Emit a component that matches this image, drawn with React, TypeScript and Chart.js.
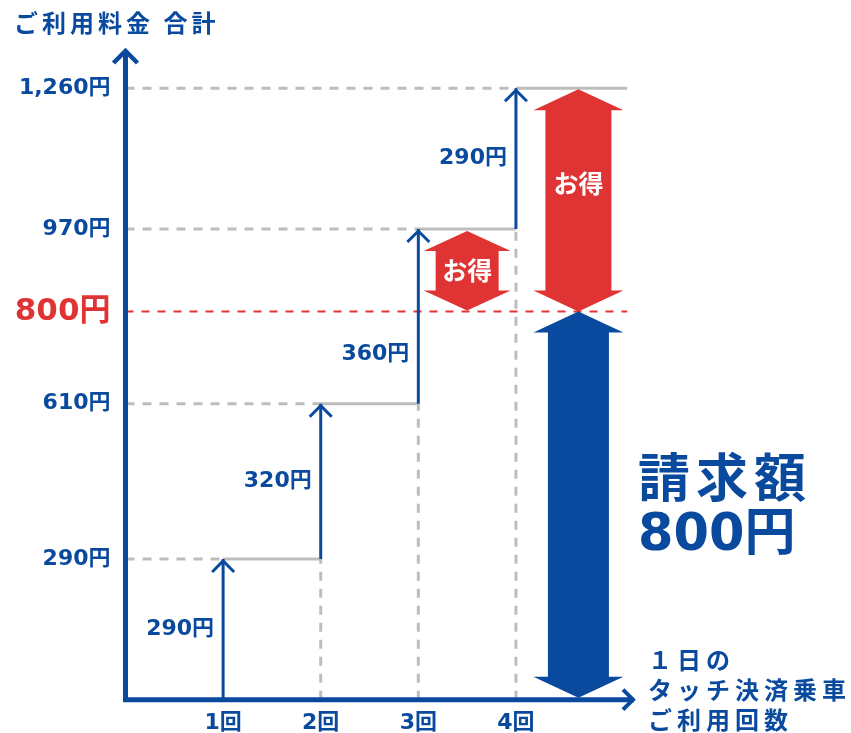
import React, { useEffect, useRef } from 'react';
import { Chart, registerables } from 'chart.js';

Chart.register(...registerables);

// ---- data ----
const categories = ['1回', '2回', '3回', '4回'];
const rideNumbers = [1, 2, 3, 4];
const fares = [290, 320, 360, 290];
const totals = [290, 610, 970, 1260];
const fareLabelValues = [145, 450, 712, 1115];
const yTickValues = [290, 610, 800, 970, 1260];
const capAmount = 800;
const savingSmallX = 3.5;
const billX = 4.64;
const lineEndX = 5.14;
const bigSavingLabelValue = 1063;
const savingLabel = 'お得';
const billLines = ['請求額', '800円'];
const yTitle = 'ご利用料金 合計';
const xTitleLines = ['１日の', 'タッチ決済乗車', 'ご利用回数'];

// ---- styles ----
const BLUE = '#0a4a9e';
const RED = '#e03434';
const GRAY = '#bdbdbd';
const NUM_FONT = '"DejaVu Sans", "Noto Sans CJK JP", sans-serif';
const JP_FONT = '"Noto Sans CJK JP", sans-serif';

const yen = (v: number) => v.toLocaleString('en-US') + '円';

function buildSegments(pairs: Array<[number, number, number, number]>) {
  const out: any[] = [];
  pairs.forEach(([x1, y1, x2, y2]) => {
    out.push({ x: x1, y: y1 }, { x: x2, y: y2 }, { x: x2, y: null });
  });
  return out;
}

function doubleArrow(ctx: CanvasRenderingContext2D, cx: number, yTop: number, yBot: number, shaftHalf: number, headHalf: number, headLen: number, color: string) {
  ctx.beginPath();
  ctx.moveTo(cx, yTop);
  ctx.lineTo(cx + headHalf, yTop + headLen);
  ctx.lineTo(cx + shaftHalf, yTop + headLen);
  ctx.lineTo(cx + shaftHalf, yBot - headLen);
  ctx.lineTo(cx + headHalf, yBot - headLen);
  ctx.lineTo(cx, yBot);
  ctx.lineTo(cx - headHalf, yBot - headLen);
  ctx.lineTo(cx - shaftHalf, yBot - headLen);
  ctx.lineTo(cx - shaftHalf, yTop + headLen);
  ctx.lineTo(cx - headHalf, yTop + headLen);
  ctx.closePath();
  ctx.fillStyle = color;
  ctx.fill();
}

function chevron(ctx: CanvasRenderingContext2D, pts: number[][], color: string, width: number) {
  ctx.beginPath();
  ctx.moveTo(pts[0][0], pts[0][1]);
  ctx.lineTo(pts[1][0], pts[1][1]);
  ctx.lineTo(pts[2][0], pts[2][1]);
  ctx.strokeStyle = color;
  ctx.lineWidth = width;
  ctx.lineJoin = 'miter';
  ctx.lineCap = 'butt';
  ctx.stroke();
}

const decorPlugin = {
  id: 'decor',
  afterDraw(chart: any) {
    const { ctx, chartArea, scales } = chart;
    const xs = scales.x;
    const ys = scales.y;
    const px = (v: number) => xs.getPixelForValue(v);
    const py = (v: number) => ys.getPixelForValue(v);
    ctx.save();

    // fare arrow heads + labels
    rideNumbers.forEach((r, i) => {
      const x = px(r);
      const tip = py(totals[i]) + 2;
      chevron(ctx, [[x - 11, tip + 11], [x, tip], [x + 11, tip + 11]], BLUE, 3);
      ctx.font = `bold 22px ${NUM_FONT}`;
      ctx.fillStyle = BLUE;
      ctx.textAlign = 'right';
      ctx.textBaseline = 'middle';
      ctx.fillText(yen(fares[i]), x - 9, py(fareLabelValues[i]));
    });

    // double arrows
    doubleArrow(ctx, px(savingSmallX), py(totals[2]) + 2, py(capAmount) - 1, 31.5, 43.5, 20, RED);
    doubleArrow(ctx, px(billX), py(totals[3]) + 1, py(capAmount), 33, 45, 21, RED);
    doubleArrow(ctx, px(billX), py(capAmount), py(0) - 2, 30.5, 45, 21, BLUE);

    ctx.font = `bold 25px ${JP_FONT}`;
    ctx.fillStyle = '#ffffff';
    ctx.textAlign = 'center';
    ctx.textBaseline = 'middle';
    ctx.fillText(savingLabel, px(savingSmallX), py((totals[2] + capAmount) / 2));
    ctx.fillText(savingLabel, px(billX), py(bigSavingLabelValue));

    // axes
    const left = chartArea.left;
    const bottom = chartArea.bottom;
    ctx.strokeStyle = BLUE;
    ctx.lineWidth = 5;
    ctx.lineCap = 'butt';
    ctx.beginPath();
    ctx.moveTo(left, chartArea.top + 2);
    ctx.lineTo(left, bottom + 2.5);
    ctx.moveTo(left - 2.5, bottom);
    ctx.lineTo(chartArea.right - 2, bottom);
    ctx.stroke();
    chevron(ctx, [[left - 12, chartArea.top + 15], [left, chartArea.top + 3], [left + 12, chartArea.top + 15]], BLUE, 4.5);
    chevron(ctx, [[chartArea.right - 13, bottom - 10], [chartArea.right - 3, bottom], [chartArea.right - 13, bottom + 10]], BLUE, 4);

    // y title
    ctx.font = `bold 24px ${JP_FONT}`;
    ctx.fillStyle = BLUE;
    ctx.textAlign = 'left';
    ctx.textBaseline = 'middle';
    (ctx as any).letterSpacing = '4px';
    ctx.fillText(yTitle, 14, 23);

    // x title
    (ctx as any).letterSpacing = '5px';
    xTitleLines.forEach((t, i) => {
      ctx.fillText(t, chartArea.right + 12, 660 + i * 30);
    });

    // bill text
    (ctx as any).letterSpacing = '6px';
    ctx.font = `bold 52px ${JP_FONT}`;
    ctx.fillText(billLines[0], chartArea.right + 2, 477);
    (ctx as any).letterSpacing = '0px';
    ctx.font = `bold 51px ${NUM_FONT}`;
    ctx.fillText(billLines[1], chartArea.right + 2, 537);
    ctx.restore();
  },
};

export default function App() {
  const ref = useRef<HTMLCanvasElement>(null);
  useEffect(() => {
    if (!ref.current) return;
    const guides = buildSegments(totals.map((t, i) => [0, t, rideNumbers[i], t] as [number, number, number, number]));
    const verticals = buildSegments(
      rideNumbers.slice(1).map((r, i) => [r, 0, r, totals[i]] as [number, number, number, number])
    );
    const steps = buildSegments(
      totals.map((t, i) => [rideNumbers[i], t, i < rideNumbers.length - 1 ? rideNumbers[i + 1] : lineEndX, t] as [number, number, number, number])
    );
    const cap = buildSegments([[0, capAmount, lineEndX, capAmount]]);
    const fareArrows = buildSegments(
      totals.map((t, i) => [rideNumbers[i], i === 0 ? 0 : totals[i - 1], rideNumbers[i], t] as [number, number, number, number])
    );
    const common = { pointRadius: 0, tension: 0, spanGaps: false, fill: false };
    const chart = new Chart(ref.current, {
      type: 'line',
      data: {
        datasets: [
          { ...common, label: 'fare', data: fareArrows, borderColor: BLUE, borderWidth: 3 },
          { ...common, label: 'cap', data: cap, borderColor: RED, borderWidth: 2, borderDash: [8, 8] },
          { ...common, label: 'steps', data: steps, borderColor: GRAY, borderWidth: 3 },
          { ...common, label: 'guides', data: guides, borderColor: GRAY, borderWidth: 3, borderDash: [9, 8] },
          { ...common, label: 'verticals', data: verticals, borderColor: GRAY, borderWidth: 3, borderDash: [9, 8] },
        ] as any,
      },
      options: {
        animation: false,
        responsive: true,
        maintainAspectRatio: false,
        layout: { padding: { left: 0, top: 48, right: 215, bottom: 0 } },
        plugins: { legend: { display: false }, tooltip: { enabled: false } },
        scales: {
          x: {
            type: 'linear',
            min: 0,
            max: 5.23,
            grid: { display: false, drawTicks: false },
            border: { display: false },
            afterBuildTicks: (scale: any) => {
              scale.ticks = rideNumbers.map((v) => ({ value: v }));
            },
            afterFit: (scale: any) => {
              scale.height = 33.3;
            },
            ticks: {
              autoSkip: false,
              maxRotation: 0,
              padding: 10,
              color: BLUE,
              font: { family: NUM_FONT, size: 22, weight: 'bold' },
              callback: (v: any) => categories[rideNumbers.indexOf(Number(v))] ?? '',
            },
          },
          y: {
            type: 'linear',
            min: 0,
            max: 1343,
            grid: { display: false, drawTicks: false },
            border: { display: false },
            afterBuildTicks: (scale: any) => {
              scale.ticks = yTickValues.map((v) => ({ value: v }));
            },
            afterFit: (scale: any) => {
              scale.width = 125.5;
            },
            ticks: {
              autoSkip: false,
              padding: 15,
              color: (c: any) => (c.tick && c.tick.value === capAmount ? RED : BLUE),
              font: (c: any) => ({
                family: NUM_FONT,
                size: c.tick && c.tick.value === capAmount ? 31 : 22,
                weight: 'bold',
              }),
              callback: (v: any) => yen(Number(v)),
            },
          },
        },
      } as any,
      plugins: [decorPlugin],
    });
    return () => chart.destroy();
  }, []);
  return (
    <div style={{ position: 'absolute', left: 0, top: 0, width: 851, height: 733, background: '#fff' }}>
      <canvas ref={ref} />
    </div>
  );
}
